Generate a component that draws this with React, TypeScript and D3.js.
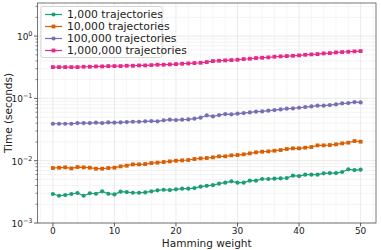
import React, { useRef, useEffect } from 'react';
import * as d3 from 'd3';

const hamming = d3.range(0, 51);

const traj1k = [
  0.00292, 0.00274, 0.00281, 0.00292, 0.00303, 0.00274, 0.00300, 0.00295, 0.00322, 0.00295,
  0.00288, 0.00318, 0.00314, 0.00306, 0.00306, 0.00310, 0.00322, 0.00334, 0.00342, 0.00338,
  0.00347, 0.00355, 0.00355, 0.00364, 0.00383, 0.00395, 0.00405, 0.00428, 0.00444, 0.00466,
  0.00444, 0.00444, 0.00478, 0.00478, 0.00508, 0.00508, 0.00514, 0.00520, 0.00527, 0.00574,
  0.00567, 0.00596, 0.00596, 0.00596, 0.00626, 0.00634, 0.00634, 0.00658, 0.00726, 0.00708,
  0.00717,
];

const traj10k = [
  0.00763, 0.00772, 0.00782, 0.00753, 0.00791, 0.00782, 0.00772, 0.00744, 0.00744, 0.00763,
  0.00772, 0.00811, 0.00831, 0.00873, 0.00873, 0.00884, 0.00917, 0.00929, 0.00952, 0.00976,
  0.0100, 0.01012, 0.01025, 0.01064, 0.01090, 0.01104, 0.01131, 0.01174, 0.01174, 0.01218,
  0.01233, 0.01264, 0.01311, 0.01361, 0.01394, 0.01412, 0.01447, 0.01483, 0.01539, 0.01578,
  0.01578, 0.01617, 0.01657, 0.01762, 0.01762, 0.01784, 0.01829, 0.01897, 0.01945, 0.02069,
  0.02018,
];

const traj100k = [
  0.0392, 0.0392, 0.0392, 0.0392, 0.0402, 0.0402, 0.0402, 0.0407, 0.0402, 0.0412,
  0.0407, 0.0412, 0.0417, 0.0422, 0.0422, 0.0428, 0.0433, 0.0428, 0.0444, 0.0455,
  0.0449, 0.0455, 0.0460, 0.0472, 0.0490, 0.0533, 0.0514, 0.0540, 0.0560, 0.0554,
  0.0568, 0.0581, 0.0596, 0.0611, 0.0618, 0.0634, 0.0650, 0.0666, 0.0683, 0.0691,
  0.0708, 0.0726, 0.0744, 0.0763, 0.0763, 0.0782, 0.0801, 0.0831, 0.0841, 0.0873,
  0.0863,
];

const traj1m = [
  0.318, 0.318, 0.318, 0.318, 0.318, 0.322, 0.322, 0.326, 0.326, 0.330,
  0.330, 0.330, 0.334, 0.334, 0.338, 0.338, 0.342, 0.347, 0.347, 0.351,
  0.355, 0.360, 0.364, 0.369, 0.373, 0.383, 0.397, 0.402, 0.407, 0.412,
  0.417, 0.428, 0.433, 0.444, 0.449, 0.455, 0.466, 0.472, 0.478, 0.483,
  0.490, 0.501, 0.508, 0.514, 0.527, 0.533, 0.547, 0.554, 0.560, 0.568,
  0.574,
];

const seriesNames = ['1,000 trajectories', '10,000 trajectories', '100,000 trajectories', '1,000,000 trajectories'];
const seriesValues = [traj1k, traj10k, traj100k, traj1m];
const seriesColors = ['#1b9e77', '#d95f02', '#7570b3', '#e7298a'];
const seriesMarkers = ['circle', 'square', 'circle', 'square'];

const xTicks = [0, 10, 20, 30, 40, 50];
const yTickExps = [-3, -2, -1, 0];

const W = 381;
const H = 250;

const App = () => {
  const svgRef = useRef<SVGSVGElement>(null);

  useEffect(() => {
    document.body.style.margin = '0';
    const svg = d3.select(svgRef.current);
    svg.selectAll('*').remove();

    const margin = { top: 3, right: 5, bottom: 27, left: 37.5 };
    const x0 = margin.left;
    const x1 = W - margin.right;
    const y0 = H - margin.bottom;
    const y1 = margin.top;

    const xScale = d3.scaleLinear().domain([-2.5, 52.5]).range([x0, x1]);
    const yScale = d3.scaleLog().domain([1e-3, Math.pow(10, 0.531)]).range([y0, y1]);

    const font = 'DejaVu Sans, sans-serif';

    // grid
    const grid = svg.append('g');
    const xMinor = d3.range(-2, 53, 2).filter(v => v % 10 !== 0);
    grid.selectAll('line.xminor')
      .data(xMinor)
      .enter().append('line')
      .attr('x1', d => xScale(d)).attr('x2', d => xScale(d))
      .attr('y1', y1).attr('y2', y0)
      .attr('stroke', '#f0f0f0').attr('stroke-width', 0.7);
    const yMinor: number[] = [];
    [-3, -2, -1, 0].forEach(e => {
      for (let k = 2; k <= 9; k++) {
        const v = k * Math.pow(10, e);
        if (v < yScale.domain()[1]) yMinor.push(v);
      }
    });
    grid.selectAll('line.yminor')
      .data(yMinor)
      .enter().append('line')
      .attr('x1', x0).attr('x2', x1)
      .attr('y1', d => yScale(d)).attr('y2', d => yScale(d))
      .attr('stroke', '#eeeeee').attr('stroke-width', 0.7);
    grid.selectAll('line.xmajor')
      .data(xTicks)
      .enter().append('line')
      .attr('x1', d => xScale(d)).attr('x2', d => xScale(d))
      .attr('y1', y1).attr('y2', y0)
      .attr('stroke', '#e4e4e4').attr('stroke-width', 0.8);
    grid.selectAll('line.ymajor')
      .data(yTickExps)
      .enter().append('line')
      .attr('x1', x0).attr('x2', x1)
      .attr('y1', d => yScale(Math.pow(10, d))).attr('y2', d => yScale(Math.pow(10, d)))
      .attr('stroke', '#e4e4e4').attr('stroke-width', 0.8);

    // series
    seriesValues.forEach((vals, i) => {
      const pts = hamming.map((h, j) => [h, vals[j]] as [number, number]);
      const line = d3.line<[number, number]>()
        .x(d => xScale(d[0]))
        .y(d => yScale(d[1]));
      const g = svg.append('g');
      g.append('path')
        .attr('d', line(pts))
        .attr('fill', 'none')
        .attr('stroke', seriesColors[i])
        .attr('stroke-width', 1.2);
      if (seriesMarkers[i] === 'circle') {
        g.selectAll('circle')
          .data(pts)
          .enter().append('circle')
          .attr('cx', d => xScale(d[0]))
          .attr('cy', d => yScale(d[1]))
          .attr('r', 2.1)
          .attr('fill', seriesColors[i]);
      } else {
        g.selectAll('rect')
          .data(pts)
          .enter().append('rect')
          .attr('x', d => xScale(d[0]) - 1.9)
          .attr('y', d => yScale(d[1]) - 1.9)
          .attr('width', 3.8)
          .attr('height', 3.8)
          .attr('fill', seriesColors[i]);
      }
    });

    // frame
    svg.append('rect')
      .attr('x', x0).attr('y', y1)
      .attr('width', x1 - x0).attr('height', y0 - y1)
      .attr('fill', 'none')
      .attr('stroke', '#555555')
      .attr('stroke-width', 0.8);

    // x axis
    const xAxis = svg.append('g');
    xAxis.selectAll('line.tick')
      .data(xTicks)
      .enter().append('line')
      .attr('x1', d => xScale(d)).attr('x2', d => xScale(d))
      .attr('y1', y0).attr('y2', y0 + 3.5)
      .attr('stroke', '#333').attr('stroke-width', 0.8);
    xAxis.selectAll('text')
      .data(xTicks)
      .enter().append('text')
      .attr('x', d => xScale(d))
      .attr('y', y0 + 10.5)
      .attr('text-anchor', 'middle')
      .attr('font-family', font)
      .attr('font-size', 9)
      .attr('fill', '#222')
      .text(d => String(d));
    svg.append('text')
      .attr('x', (x0 + x1) / 2)
      .attr('y', H - 3.5)
      .attr('text-anchor', 'middle')
      .attr('font-family', font)
      .attr('font-size', 10.5)
      .attr('fill', '#222')
      .text('Hamming weight');

    // y axis
    const yAxis = svg.append('g');
    yAxis.selectAll('line.minor')
      .data(yMinor)
      .enter().append('line')
      .attr('x1', x0 - 2).attr('x2', x0)
      .attr('y1', d => yScale(d)).attr('y2', d => yScale(d))
      .attr('stroke', '#333').attr('stroke-width', 0.6);
    yAxis.selectAll('line.major')
      .data(yTickExps)
      .enter().append('line')
      .attr('x1', x0 - 3.5).attr('x2', x0)
      .attr('y1', d => yScale(Math.pow(10, d))).attr('y2', d => yScale(Math.pow(10, d)))
      .attr('stroke', '#333').attr('stroke-width', 0.8);
    const labels = yAxis.selectAll('text')
      .data(yTickExps)
      .enter().append('text')
      .attr('x', x0 - 5)
      .attr('y', d => yScale(Math.pow(10, d)) + 4)
      .attr('text-anchor', 'end')
      .attr('font-family', font)
      .attr('font-size', 9)
      .attr('fill', '#222');
    labels.append('tspan').text('10');
    labels.append('tspan')
      .attr('dy', -4)
      .attr('font-size', 6.5)
      .text(d => (d < 0 ? '\u2212' + Math.abs(d) : String(d)));
    svg.append('text')
      .attr('transform', `translate(12,${(y0 + y1) / 2}) rotate(-90)`)
      .attr('text-anchor', 'middle')
      .attr('font-family', font)
      .attr('font-size', 10.5)
      .attr('fill', '#222')
      .text('Time (seconds)');

    // legend
    const lg = svg.append('g').attr('transform', `translate(${x0 + 3.5},${y1 + 3.5})`);
    lg.append('rect')
      .attr('width', 121)
      .attr('height', 51)
      .attr('rx', 2)
      .attr('fill', 'white')
      .attr('fill-opacity', 0.85)
      .attr('stroke', '#cccccc')
      .attr('stroke-width', 0.8);
    seriesNames.forEach((name, i) => {
      const cy = 8 + i * 12;
      lg.append('line')
        .attr('x1', 4).attr('x2', 21)
        .attr('y1', cy).attr('y2', cy)
        .attr('stroke', seriesColors[i]).attr('stroke-width', 1.2);
      if (seriesMarkers[i] === 'circle') {
        lg.append('circle').attr('cx', 12.5).attr('cy', cy).attr('r', 2.1).attr('fill', seriesColors[i]);
      } else {
        lg.append('rect').attr('x', 10.6).attr('y', cy - 1.9).attr('width', 3.8).attr('height', 3.8).attr('fill', seriesColors[i]);
      }
      lg.append('text')
        .attr('x', 26)
        .attr('y', cy + 3.8)
        .attr('font-family', font)
        .attr('font-size', 10.8)
        .attr('fill', '#222')
        .text(name);
    });
  }, []);

  return <svg ref={svgRef} width={W} height={H} style={{ display: 'block' }}></svg>;
};

export default App;
